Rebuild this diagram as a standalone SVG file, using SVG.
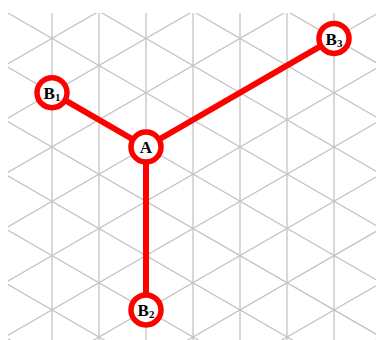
<svg xmlns="http://www.w3.org/2000/svg" width="376" height="340" viewBox="0 0 376 340">
<style>
.grid{stroke:#c4c4c4;stroke-width:1.3;fill:none}
.edge{stroke:#ff0000;stroke-width:6;stroke-linecap:round}
.node circle{fill:#ffffff;stroke:#ff0000;stroke-width:5.5}
.node text{font-family:"Liberation Serif",serif;font-weight:bold;font-size:17px;fill:#000;text-anchor:middle}
.sub{font-size:11px}
</style>
<defs><clipPath id="c"><rect x="8" y="13" width="368" height="327"/></clipPath></defs>
<rect width="376" height="340" fill="#ffffff"/>
<g id="grid" class="grid" clip-path="url(#c)">
<path d="M52 0V340M99 0V340M146 0V340M193 0V340M240 0V340M287 0V340M334 0V340"/>
<path d="M0 -154.49L376 62.59M0 -100.19L376 116.89M0 -45.89L376 171.19M0 8.41L376 225.49M0 62.71L376 279.79M0 117.01L376 334.09M0 171.31L376 388.39M0 225.61L376 442.69M0 279.91L376 496.99M0 334.21L376 551.29"/>
<path d="M0 68.39L376 -148.69M0 122.69L376 -94.39M0 176.99L376 -40.09M0 231.29L376 14.21M0 285.59L376 68.51M0 339.89L376 122.81M0 394.19L376 177.11M0 448.49L376 231.41M0 502.79L376 285.71M0 557.09L376 340.01"/>
</g>
<g id="connectors">
<line class="edge" x1="146" y1="147" x2="52" y2="92.7"/>
<line class="edge" x1="146" y1="147" x2="146" y2="309.9"/>
<line class="edge" x1="146" y1="147" x2="334" y2="38.4"/>
</g>
<g id="A" class="node"><circle cx="146" cy="147" r="15"/><text x="146" y="153">A</text></g>
<g id="B1" class="node"><circle cx="52" cy="92.7" r="15"/><text x="52" y="99"><tspan>B</tspan><tspan class="sub" dy="2">1</tspan></text></g>
<g id="B2" class="node"><circle cx="146" cy="309.9" r="15"/><text x="146" y="316"><tspan>B</tspan><tspan class="sub" dy="2">2</tspan></text></g>
<g id="B3" class="node"><circle cx="334" cy="38.4" r="15"/><text x="334" y="44.5"><tspan>B</tspan><tspan class="sub" dy="2">3</tspan></text></g>
</svg>
